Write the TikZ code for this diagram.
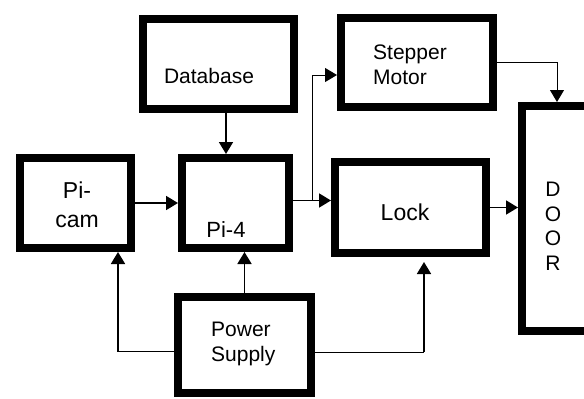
\documentclass[tikz,border=0pt]{standalone}
\usepackage{fontspec}
\setmainfont{Liberation Sans}
\usetikzlibrary{arrows.meta,calc}
\begin{document}
\begin{tikzpicture}[x=1pt,y=-1pt,
  blk/.style={draw=black,line width=8pt,rectangle,inner sep=0pt,fill=white},
  lbl/.style={inner sep=0pt,font=\fontsize{21}{25}\selectfont},
  arr/.style={line width=1.8pt,-{Triangle[length=12pt,width=14pt]}},
  thinarr/.style={line width=1pt,-{Triangle[length=12pt,width=14pt]}}]
\fill[white] (0,0) rectangle (584,399);
\useasboundingbox (0,0) rectangle (584,399);
% boxes
\node[blk,minimum width=151pt,minimum height=90pt] (db) at (218.5,64) {};
\node[blk,minimum width=111pt,minimum height=90pt] (picam) at (75.5,203) {};
\node[blk,minimum width=107pt,minimum height=90pt] (pi4) at (235.5,203) {};
\node[blk,minimum width=152pt,minimum height=89pt] (stepper) at (417,62.5) {};
\node[blk,minimum width=151pt,minimum height=91pt] (lock) at (410.5,207.5) {};
\node[blk,minimum width=133pt,minimum height=96pt] (power) at (244.5,345) {};
\begin{scope}
\clip (0,0) rectangle (584,399);
\node[blk,minimum width=124pt,minimum height=225pt] (door) at (584,218.5) {};
\end{scope}
% texts
\node[lbl] (dbt) at (209,76) {Database};
\node[lbl,align=center,font=\fontsize{23}{29}\selectfont] (picamt) at (77,205) {Pi-\\cam};
\node[lbl,font=\fontsize{22}{26}\selectfont] (pi4t) at (226,230) {Pi-4};
\node[lbl,align=left,anchor=west] (steppert) at (373,64.5) {Stepper\\Motor};
\node[lbl,font=\fontsize{23}{27}\selectfont] (lockt) at (405,212) {Lock};
\node[lbl,align=left,anchor=west] (powert) at (211,344) {Power\\Supply};
\node[lbl,align=center,font=\fontsize{21}{24.5}\selectfont] (doort) at (553,226.5) {D\\O\\O\\R};
% connectors
\draw[arr] ([xshift=7.5pt]db.south) -- ([xshift=-9.5pt]pi4.north);
\draw[arr] (picam.east) -- (pi4.west);
\draw[arr] ([yshift=2.5pt]pi4.east) -- ([yshift=2.5pt]pi4.east -| lock.west);
\coordinate (br) at ($([yshift=2.5pt]pi4.east)+(19,0)$);
\draw[thinarr] (br) |- ([yshift=-12.5pt]stepper.west);
\draw[thinarr] (stepper.east) -| ($(door.north west)+(39,0)$);
\draw[arr] (lock.east) -- (lock.east -| door.west);
\draw[arr] (power.north) -- (power.north |- pi4.south);
\draw[arr] ([yshift=-6.5pt]power.west) -| ([xshift=42.5pt]picam.south);
\draw[line width=1pt] ([yshift=-7pt]power.east) -- ([yshift=-7pt]power.east -| 424,0);
\draw[arr] ([yshift=-7pt]power.east -| 424,0) -- ([xshift=13.5pt,yshift=-5pt]lock.south);
\end{tikzpicture}
\end{document}
